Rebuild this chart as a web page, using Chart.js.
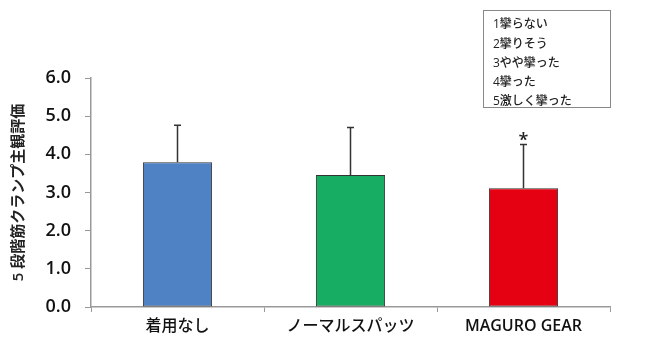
<!DOCTYPE html>
<html><head><meta charset="utf-8">
<script src="https://cdn.jsdelivr.net/npm/chart.js@4/dist/chart.umd.min.js"></script>
<style>html,body{margin:0;padding:0;background:#fff}#wrap{width:652px;height:355px;position:relative}</style>
</head><body><div id="wrap"><canvas id="c" width="652" height="355"></canvas></div>
<script>
const categories = ['着用なし', 'ノーマルスパッツ', 'MAGURO GEAR'];
const means = [3.79, 3.46, 3.11];
const errors = [0.97, 1.24, 1.15];
const marks = ['', '', '*'];
const barColors = ['#4F81C5', '#17AD63', '#E50012'];
const scaleLines = ['1攣らない', '2攣りそう', '3やや攣った', '4攣った', '5激しく攣った'];
const yTitle = '5 段階筋クランプ主観評価';
const FONT = '"Open Sans", "Noto Sans CJK JP", sans-serif';

const extras = {
  id: 'extras',
  afterDatasetsDraw(chart) {
    const ctx = chart.ctx, y = chart.scales.y;
    const meta = chart.getDatasetMeta(0);
    ctx.save();
    meta.data.forEach((bar, i) => {
      const top = y.getPixelForValue(means[i] + errors[i]);
      ctx.strokeStyle = '#333';
      ctx.lineWidth = 1.5;
      ctx.beginPath();
      ctx.moveTo(bar.x, bar.y);
      ctx.lineTo(bar.x, top);
      ctx.moveTo(bar.x - 3.5, top);
      ctx.lineTo(bar.x + 3.5, top);
      ctx.stroke();
      if (marks[i]) {
        ctx.fillStyle = '#222';
        ctx.font = '600 18px ' + FONT;
        ctx.textAlign = 'center';
        ctx.textBaseline = 'middle';
        ctx.fillText(marks[i], bar.x, top - 4);
      }
    });
    // legend box
    ctx.strokeStyle = '#888';
    ctx.lineWidth = 1;
    ctx.strokeRect(483.5, 10.5, 127, 97);
    ctx.fillStyle = '#222';
    ctx.font = '500 12px ' + FONT;
    ctx.textAlign = 'left';
    ctx.textBaseline = 'middle';
    scaleLines.forEach((t, k) => ctx.fillText(t, 493, 25 + k * 19.2));
    ctx.restore();
  }
};

new Chart(document.getElementById('c'), {
  type: 'bar',
  data: {
    labels: categories,
    datasets: [{
      data: means,
      backgroundColor: barColors,
      borderColor: '#333',
      borderWidth: 1,
      borderSkipped: false,
      barPercentage: 0.4,
      categoryPercentage: 1.0
    }]
  },
  options: {
    responsive: false,
    animation: false,
    layout: { padding: { top: 78, right: 42, left: 0, bottom: 0 } },
    plugins: { legend: { display: false }, tooltip: { enabled: false } },
    scales: {
      x: {
        afterFit(s) { s.height = 48; },
        grid: { offset: true, drawOnChartArea: false, drawTicks: true, tickLength: 5, color: '#999' },
        border: { color: '#999', width: 1.5 },
        ticks: {
          color: '#111',
          font: (c) => {
            const lbl = categories[c.index] || '';
            return { family: FONT, size: 16, weight: /^[\x00-\x7F]+$/.test(lbl) ? '600' : '500' };
          },
          padding: 5
        }
      },
      y: {
        min: 0, max: 6,
        afterFit(s) { s.width = 91; },
        grid: { drawOnChartArea: false, drawTicks: true, tickLength: 6, color: '#999' },
        border: { color: '#999', width: 1.5 },
        ticks: {
          stepSize: 1,
          color: '#111',
          padding: 14,
          font: { family: FONT, size: 18, weight: '600' },
          callback: v => Number(v).toFixed(1)
        },
        title: {
          display: true, text: yTitle, color: '#222',
          font: { family: FONT, size: 15, weight: '600' },
          padding: { top: 10, bottom: 0 }
        }
      }
    }
  },
  plugins: [extras]
});
</script></body></html>
